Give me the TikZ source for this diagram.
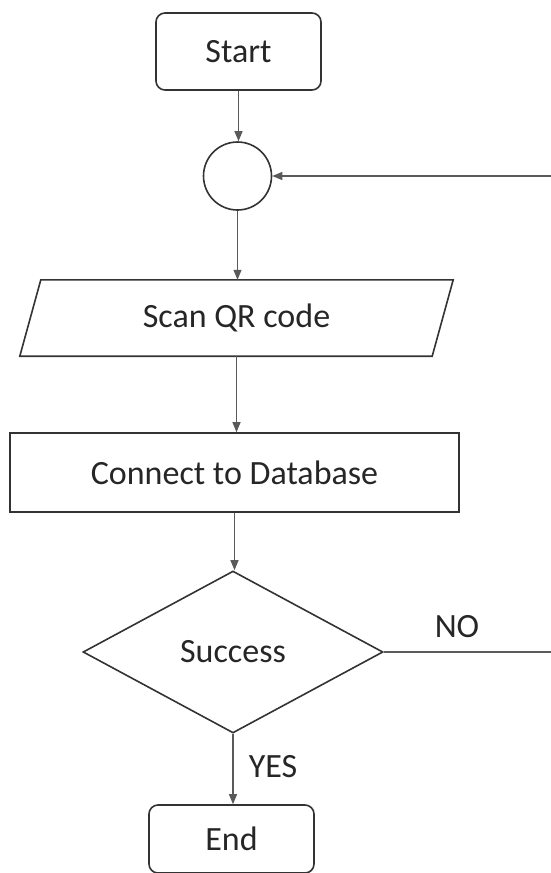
\documentclass[tikz,border=0pt]{standalone}
\usepackage{fontspec}
\setmainfont{Carlito}
\usetikzlibrary{arrows.meta,shapes.geometric,calc}

\definecolor{inkline}{HTML}{333333}
\definecolor{inkarrow}{HTML}{5A5A5A}
\definecolor{inktext}{HTML}{262626}

\tikzset{
  base/.style={font=\fontsize{34}{40}\selectfont, text=inktext, inner sep=0pt},
  terminal/.style={base, draw=inkline, line width=1.6pt, rounded corners=9pt,
    minimum width=165pt},
  junction/.style={draw=inkline, line width=1.6pt, circle, minimum size=68pt, inner sep=0pt},
  process/.style={base, draw=inkline, line width=1.6pt, minimum width=449pt, minimum height=79pt},
  iobody/.style={base, minimum width=412pt, minimum height=76pt},
  decision/.style={base, draw=inkline, line width=1.6pt, diamond, aspect=1.85,
    minimum width=300pt, minimum height=162pt},
  flow/.style={draw=inkarrow, line width=1.1pt, -{Triangle[length=10pt,width=8pt]}},
  lbl/.style={base}
}

\begin{document}
\begin{tikzpicture}[x=1pt,y=-1pt]
  \useasboundingbox (0,0) rectangle (550,873);

  % nodes
  \node[terminal, minimum height=77pt] (start) at (238.5,51.5) {Start};
  \node[junction] (join) at (237.5,176) {};
  \node[iobody] (scan) at (236.5,318) {Scan QR code};
  \draw[inkline, line width=1.6pt]
    ($(scan.north west)+(10.5,0)$) -- ($(scan.north east)+(10.5,0)$)
    -- ($(scan.south east)+(-10.5,0)$) -- ($(scan.south west)+(-10.5,0)$) -- cycle;
  \node[process] (db) at (234.5,472.5) {Connect to Database};
  \node[decision] (ok) at (233,652) {Success};
  \node[terminal, minimum height=68pt] (stop) at (231.5,839) {End};

  % connectors
  \draw[flow] (start.south) -- (start.south |- join.north);
  \draw[flow] (join.south) -- (join.south |- scan.north);
  \draw[flow] (scan.south) -- (scan.south |- db.north);
  \draw[flow] (db.south) -- (db.south |- ok.north);
  \draw[flow] (ok.south) -- (ok.south |- stop.north);

  % retry loop back to the junction
  \coordinate (loopcorner) at (560,652);
  \draw[flow] (ok.east) -- (loopcorner) |- (join.east);

  % branch labels
  \node[lbl] (no) at (457,627) {NO};
  \node[lbl] (yes) at (273,767) {YES};
\end{tikzpicture}
\end{document}
